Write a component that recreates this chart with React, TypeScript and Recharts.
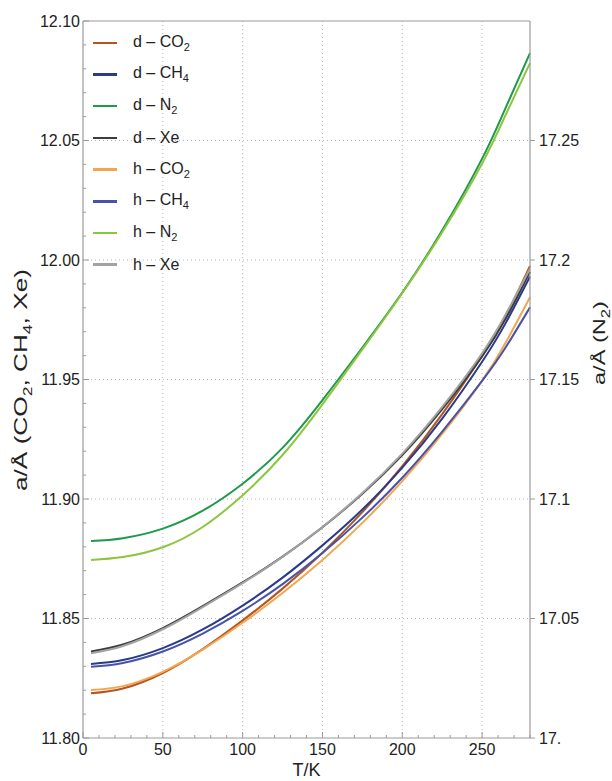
import { LineChart, Line, XAxis, YAxis, ReferenceLine, Legend } from 'recharts';

// temperature grid (K)
const temps = [5, 25, 50, 75, 100, 125, 150, 175, 200, 225, 250, 265, 280];

// lattice constants, left axis (Å)
const dCO2 = [11.8187, 11.8207, 11.8272, 11.8372, 11.8492, 11.8625, 11.8775, 11.8945, 11.9137, 11.9355, 11.96, 11.9768, 11.9975];
const dCH4 = [11.831, 11.8326, 11.8376, 11.8454, 11.8554, 11.8671, 11.8806, 11.8956, 11.9131, 11.9336, 11.9574, 11.9739, 11.9931];
const dXe = [11.8362, 11.8391, 11.846, 11.8552, 11.8651, 11.8759, 11.8882, 11.9022, 11.9184, 11.9376, 11.9597, 11.9757, 11.9951];
const hCO2 = [11.8201, 11.8217, 11.8277, 11.837, 11.8482, 11.8607, 11.8745, 11.89, 11.9075, 11.9272, 11.9495, 11.9657, 11.9844];
const hCH4 = [11.8298, 11.8314, 11.8362, 11.8437, 11.8532, 11.8644, 11.8774, 11.8922, 11.9089, 11.9282, 11.9494, 11.9637, 11.9802];
const hXe = [11.8355, 11.8385, 11.8455, 11.8548, 11.8648, 11.8758, 11.8883, 11.9025, 11.919, 11.9385, 11.961, 11.9775, 11.9964];

// N2 on the right axis (Å)
const dN2 = [17.0824, 17.0836, 17.0876, 17.0951, 17.1064, 17.1214, 17.1414, 17.1634, 17.1864, 17.2124, 17.2424, 17.2641, 17.2866];
const hN2 = [17.0745, 17.0757, 17.0798, 17.0883, 17.1016, 17.1184, 17.1396, 17.1626, 17.1861, 17.2116, 17.2404, 17.2611, 17.2824];

const xTicks = [0, 10, 20, 30, 40, 50, 60, 70, 80, 90, 100, 110, 120, 130, 140, 150, 160, 170, 180, 190, 200, 210, 220, 230, 240, 250, 260, 270, 280];
const xMajor = [50, 100, 150, 200, 250];
const leftTicks = Array.from({ length: 31 }, (_, i) => +(11.8 + i * 0.01).toFixed(2));
const leftMajor = [11.85, 11.9, 11.95, 12.0, 12.05];
const rightTicks = [17, 17.05, 17.1, 17.15, 17.2, 17.25];
const rightLabels = ['17.', '17.05', '17.1', '17.15', '17.2', '17.25'];

const series = [
  { key: 'dCO2', pre: 'd', base: 'CO', sub: '2', color: '#b4541f', axis: 'left', values: dCO2 },
  { key: 'dCH4', pre: 'd', base: 'CH', sub: '4', color: '#2a3a8c', axis: 'left', values: dCH4 },
  { key: 'dN2', pre: 'd', base: 'N', sub: '2', color: '#1e9a4c', axis: 'right', values: dN2 },
  { key: 'dXe', pre: 'd', base: 'Xe', sub: '', color: '#3d3d3d', axis: 'left', values: dXe },
  { key: 'hCO2', pre: 'h', base: 'CO', sub: '2', color: '#f4a54e', axis: 'left', values: hCO2 },
  { key: 'hCH4', pre: 'h', base: 'CH', sub: '4', color: '#4653a8', axis: 'left', values: hCH4 },
  { key: 'hN2', pre: 'h', base: 'N', sub: '2', color: '#8cc63e', axis: 'right', values: hN2 },
  { key: 'hXe', pre: 'h', base: 'Xe', sub: '', color: '#a3a3a3', axis: 'left', values: hXe },
];

const data = temps.map((t, i) => {
  const row: any = { T: t };
  series.forEach((s) => { row[s.key] = s.values[i]; });
  return row;
});

const FONT = '"Liberation Sans", Arial, sans-serif';
const FRAME = '#9a9a9a';
const GRID = '#b8b8b8';

const BottomTick = (props: any) => {
  const { x, y, payload } = props;
  const v = payload.value;
  const major = v % 50 === 0;
  return (
    <g>
      <line x1={x} x2={x} y1={y} y2={y - (major ? 6 : 3)} stroke={FRAME} />
      {major && (
        <text x={x} y={y + 17} textAnchor="middle" fontSize={16} fill="#222" fontFamily={FONT}>{v}</text>
      )}
    </g>
  );
};

const LeftTick = (props: any) => {
  const { x, y, payload } = props;
  const v = payload.value;
  const major = Math.round(v * 100) % 5 === 0;
  return (
    <g>
      <line x1={x} x2={x + (major ? 6 : 3)} y1={y} y2={y} stroke={FRAME} />
      {major && (
        <text x={x - 3} y={y + 5.5} textAnchor="end" fontSize={16} fill="#222" fontFamily={FONT}>{v.toFixed(2)}</text>
      )}
    </g>
  );
};

const RightTick = (props: any) => {
  const { x, y, index } = props;
  return (
    <g>
      <line x1={x} x2={x + 5} y1={y} y2={y} stroke={FRAME} />
      <text x={x + 9} y={y + 5.5} textAnchor="start" fontSize={16} fill="#222" fontFamily={FONT}>{rightLabels[index]}</text>
    </g>
  );
};

const XTitle = () => (
  <text x={306.5} y={776} textAnchor="middle" fontSize={18} fill="#222" fontFamily={FONT}>T/K</text>
);

const LeftTitle = () => (
  <text x={21} y={380} transform="rotate(-90, 21, 380)" textAnchor="middle" dominantBaseline="central"
    fontSize={18} fill="#222" fontFamily={FONT} textLength={222} lengthAdjust="spacingAndGlyphs">
    a/Å (CO<tspan baselineShift="sub" fontSize={12}>2</tspan>, CH<tspan baselineShift="sub" fontSize={12}>4</tspan>, Xe)
  </text>
);

const RightTitle = () => (
  <text x={599} y={343} transform="rotate(-90, 599, 343)" textAnchor="middle" dominantBaseline="central"
    fontSize={17} fill="#222" fontFamily={FONT} textLength={84} lengthAdjust="spacingAndGlyphs">
    a/Å (N<tspan baselineShift="sub" fontSize={12}>2</tspan>)
  </text>
);

const renderLegend = () => (
  <div style={{ fontFamily: FONT, fontSize: 16, color: '#222' }}>
    {series.map((s) => (
      <div key={s.key} style={{ display: 'flex', alignItems: 'center', height: 31.7 }}>
        <span style={{ display: 'inline-block', width: 24, height: 2.5, background: s.color, marginRight: 16 }} />
        <span>
          {s.pre} – {s.base}
          {s.sub && <sub style={{ fontSize: 11 }}>{s.sub}</sub>}
        </span>
      </div>
    ))}
  </div>
);

export default function App() {
  return (
    <div style={{ position: 'absolute', left: 0, top: 0, background: '#fff' }}>
      <LineChart width={612} height={781} data={data} margin={{ top: 21, right: 0, bottom: 0, left: 0 }}>
        <XAxis dataKey="T" type="number" domain={[0, 280]} ticks={xTicks} interval={0} height={43}
          tickSize={0} tickMargin={0} tickLine={false} axisLine={{ stroke: FRAME, strokeWidth: 1.2 }}
          tick={(p: any) => <BottomTick {...p} />} label={<XTitle />} />
        <YAxis yAxisId="left" orientation="left" domain={[11.8, 12.1]} ticks={leftTicks} interval={0} width={83}
          tickSize={0} tickMargin={0} tickLine={false} axisLine={{ stroke: FRAME, strokeWidth: 1.2 }}
          tick={(p: any) => <LeftTick {...p} />} label={<LeftTitle />} allowDataOverflow />
        <YAxis yAxisId="right" orientation="right" domain={[17.0, 17.3]} ticks={rightTicks} interval={0} width={82}
          tickSize={0} tickMargin={0} tickLine={false} axisLine={{ stroke: FRAME, strokeWidth: 1.2 }}
          tick={(p: any) => <RightTick {...p} />} label={<RightTitle />} allowDataOverflow />
        {xMajor.map((v) => (
          <ReferenceLine key={'gx' + v} x={v} yAxisId="left" stroke={GRID} strokeDasharray="1 3" />
        ))}
        {leftMajor.map((v) => (
          <ReferenceLine key={'gy' + v} y={v} yAxisId="left" stroke={GRID} strokeDasharray="1 3" />
        ))}
        <ReferenceLine y={12.1} yAxisId="left" stroke={FRAME} strokeWidth={1.2} />
        <Legend content={renderLegend} layout="vertical" align="center" verticalAlign="middle"
          wrapperStyle={{ left: 93, top: 27, width: 160, height: 254 }} />
        {series.map((s) => (
          <Line key={s.key} dataKey={s.key} yAxisId={s.axis} type="natural" stroke={s.color} strokeWidth={2}
            dot={false} activeDot={false} isAnimationActive={false} />
        ))}
      </LineChart>
    </div>
  );
}
